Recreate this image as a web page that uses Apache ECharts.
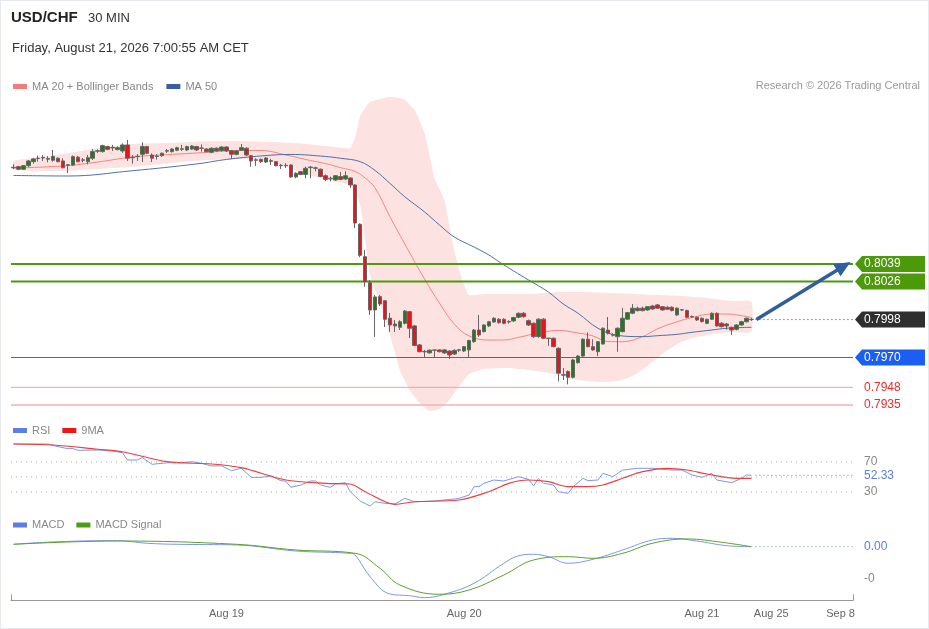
<!DOCTYPE html>
<html>
<head>
<meta charset="utf-8">
<script src="https://cdn.jsdelivr.net/npm/echarts@6/dist/echarts.min.js"></script>
<style>
html, body { margin: 0; padding: 0; background: #fff; }
#chart { width: 929px; height: 629px; }
#frame { position: absolute; left: 0; top: 0; width: 929px; height: 629px; box-sizing: border-box; border: 1px solid #e6e9ed; pointer-events: none; }
</style>
</head>
<body>
<div id="chart"></div>
<div id="frame"></div>
<script>
// 30 min bars, [open, close, low, high]
const candles = [
  [0.81103,0.81100,0.81091,0.81125],[0.81108,0.81089,0.81083,0.81113],[0.81089,0.81115,0.81083,0.81120],
  [0.81115,0.81150,0.81105,0.81157],[0.81145,0.81165,0.81130,0.81172],[0.81168,0.81170,0.81145,0.81190],
  [0.81172,0.81176,0.81150,0.81194],[0.81168,0.81163,0.81140,0.81185],[0.81155,0.81184,0.81145,0.81231],
  [0.81170,0.81145,0.81140,0.81176],[0.81150,0.81100,0.81095,0.81170],[0.81118,0.81122,0.81061,0.81128],
  [0.81120,0.81182,0.81113,0.81190],[0.81178,0.81145,0.81140,0.81187],[0.81155,0.81158,0.81140,0.81172],
  [0.81145,0.81174,0.81125,0.81194],[0.81170,0.81219,0.81157,0.81238],[0.81222,0.81226,0.81209,0.81236],
  [0.81219,0.81263,0.81212,0.81270],[0.81256,0.81236,0.81230,0.81262],[0.81246,0.81250,0.81224,0.81268],
  [0.81234,0.81248,0.81228,0.81258],[0.81224,0.81268,0.81209,0.81280],[0.81268,0.81170,0.81150,0.81305],
  [0.81174,0.81178,0.81130,0.81194],[0.81182,0.81185,0.81150,0.81201],[0.81199,0.81256,0.81142,0.81288],
  [0.81256,0.81207,0.81200,0.81262],[0.81194,0.81170,0.81142,0.81206],[0.81183,0.81186,0.81160,0.81201],
  [0.81189,0.81207,0.81180,0.81212],[0.81222,0.81226,0.81209,0.81238],[0.81219,0.81238,0.81212,0.81245],
  [0.81229,0.81248,0.81222,0.81255],[0.81236,0.81240,0.81224,0.81268],[0.81231,0.81256,0.81224,0.81262],
  [0.81238,0.81260,0.81231,0.81266],[0.81256,0.81231,0.81224,0.81262],[0.81243,0.81246,0.81219,0.81272],
  [0.81238,0.81219,0.81212,0.81245],[0.81214,0.81244,0.81207,0.81250],[0.81244,0.81224,0.81219,0.81250],
  [0.81226,0.81253,0.81219,0.81258],[0.81253,0.81224,0.81216,0.81258],[0.81226,0.81199,0.81165,0.81231],
  [0.81199,0.81224,0.81192,0.81229],[0.81229,0.81248,0.81224,0.81275],[0.81244,0.81194,0.81187,0.81250],
  [0.81189,0.81150,0.81108,0.81194],[0.81155,0.81158,0.81113,0.81170],[0.81162,0.81145,0.81135,0.81168],
  [0.81142,0.81172,0.81135,0.81178],[0.81152,0.81148,0.81120,0.81165],[0.81145,0.81115,0.81110,0.81150],
  [0.81118,0.81114,0.81091,0.81128],[0.81115,0.81118,0.81098,0.81133],[0.81120,0.81032,0.81025,0.81126],
  [0.81032,0.81059,0.81022,0.81066],[0.81071,0.81051,0.81046,0.81076],[0.81051,0.81096,0.81022,0.81108],
  [0.81101,0.81105,0.81022,0.81113],[0.81096,0.81099,0.81074,0.81108],[0.81089,0.81035,0.81030,0.81094],
  [0.81041,0.81014,0.81002,0.81051],[0.81022,0.81018,0.80999,0.81035],[0.81010,0.81041,0.81002,0.81046],
  [0.81035,0.81014,0.81008,0.81069],[0.81017,0.81041,0.81010,0.81074],[0.81024,0.80973,0.80951,0.81029],
  [0.80973,0.80692,0.80656,0.80978],[0.80683,0.80454,0.80440,0.80690],[0.80444,0.80259,0.80222,0.80493],
  [0.80252,0.80051,0.80014,0.80272],[0.80051,0.80147,0.79852,0.80161],[0.80149,0.80095,0.80080,0.80161],
  [0.80119,0.79982,0.79925,0.80124],[0.79990,0.79940,0.79890,0.80029],[0.79947,0.79933,0.79888,0.79977],
  [0.79923,0.79964,0.79903,0.79975],[0.79952,0.80043,0.79945,0.80050],[0.80038,0.79916,0.79844,0.80043],
  [0.79933,0.79789,0.79785,0.79940],[0.79793,0.79743,0.79738,0.79800],[0.79745,0.79742,0.79700,0.79756],
  [0.79734,0.79754,0.79730,0.79760],[0.79753,0.79756,0.79700,0.79760],[0.79756,0.79743,0.79738,0.79760],
  [0.79734,0.79756,0.79726,0.79763],[0.79748,0.79719,0.79690,0.79753],[0.79726,0.79753,0.79719,0.79760],
  [0.79754,0.79757,0.79740,0.79763],[0.79748,0.79780,0.79741,0.79785],[0.79756,0.79826,0.79700,0.79830],
  [0.79817,0.79903,0.79810,0.79910],[0.79903,0.79866,0.79852,0.80014],[0.79891,0.79940,0.79885,0.79947],
  [0.79933,0.79964,0.79925,0.79970],[0.79962,0.79990,0.79955,0.79997],[0.79982,0.79957,0.79950,0.79990],
  [0.79982,0.79952,0.79945,0.79990],[0.79962,0.79966,0.79950,0.79975],[0.79970,0.79995,0.79962,0.80000],
  [0.79997,0.80026,0.79990,0.80033],[0.80026,0.80001,0.79994,0.80036],[0.79972,0.79940,0.79933,0.79980],
  [0.79953,0.79854,0.79845,0.79958],[0.79854,0.79983,0.79845,0.79990],[0.79983,0.79842,0.79835,0.79990],
  [0.79843,0.79840,0.79786,0.79845],[0.79842,0.79780,0.79775,0.79848],[0.79768,0.79584,0.79524,0.79775],
  [0.79573,0.79570,0.79534,0.79623],[0.79596,0.79554,0.79502,0.79605],[0.79554,0.79682,0.79545,0.79690],
  [0.79662,0.79711,0.79655,0.79718],[0.79711,0.79835,0.79705,0.79842],[0.79835,0.79780,0.79775,0.79884],
  [0.79780,0.79756,0.79750,0.79835],[0.79743,0.79817,0.79711,0.79822],[0.79800,0.79916,0.79795,0.79922],
  [0.79903,0.79879,0.79870,0.79999],[0.79868,0.79865,0.79855,0.79880],[0.79854,0.79916,0.79743,0.79922],
  [0.79891,0.79990,0.79885,0.80066],[0.79983,0.80031,0.79977,0.80036],[0.80027,0.80064,0.80020,0.80095],
  [0.80046,0.80064,0.80040,0.80075],[0.80064,0.80046,0.80040,0.80075],[0.80051,0.80075,0.80045,0.80080],
  [0.80080,0.80058,0.80052,0.80088],[0.80088,0.80064,0.80058,0.80095],[0.80075,0.80051,0.80045,0.80080],
  [0.80071,0.80056,0.80050,0.80078],[0.80071,0.80046,0.80040,0.80078],[0.80014,0.80064,0.80008,0.80070],
  [0.80053,0.80050,0.80043,0.80058],[0.80046,0.79997,0.79990,0.80053],[0.80002,0.79999,0.79994,0.80010],
  [0.79997,0.79977,0.79970,0.80002],[0.79990,0.79965,0.79958,0.79995],[0.79952,0.79982,0.79945,0.79987],
  [0.79982,0.80026,0.79977,0.80033],[0.80026,0.79933,0.79928,0.80033],[0.79953,0.79928,0.79921,0.79960],
  [0.79947,0.79933,0.79905,0.79955],[0.79923,0.79903,0.79866,0.79928],[0.79908,0.79940,0.79900,0.79945],
  [0.79940,0.79964,0.79935,0.79970],[0.79964,0.79990,0.79958,0.79995],[0.79982,0.79980,0.79970,0.79992]
];

// indicator readings: [bar index, value]
const ma20 = [
  [0,0.81098],[10,0.81113],[17,0.81142],[24,0.81179],[30,0.81194],[38,0.81211],[45,0.81227],[50,0.81227],
  [55,0.81194],[60,0.81153],[63,0.81131],[66,0.81101],[69,0.81072],[71,0.81024],[73,0.80951],[76,0.80739],
  [79,0.80538],[83,0.80279],[86,0.80102],[89,0.79947],[92,0.79859],[96,0.79829],[99,0.79829],[102,0.79849],
  [106,0.79881],[110,0.79900],[114,0.79881],[117,0.79859],[120,0.79818],[123,0.79817],[127,0.79854],
  [130,0.79911],[134,0.79964],[137,0.79994],[141,0.80021],[144,0.80021],[147,0.80009],[149,0.79994]
];
const ma50 = [
  [0,0.81043],[11,0.81039],[24,0.81078],[37,0.81128],[43,0.81161],[50,0.81187],[56,0.81198],[63,0.81183],
  [66,0.81170],[70,0.81145],[73,0.81080],[76,0.80985],[79,0.80886],[83,0.80774],[86,0.80678],[89,0.80589],
  [93,0.80515],[96,0.80456],[98,0.80407],[101,0.80338],[104,0.80272],[108,0.80183],[111,0.80095],
  [114,0.80026],[118,0.79916],[122,0.79863],[127,0.79854],[130,0.79861],[134,0.79871],[137,0.79886],
  [141,0.79903],[144,0.79916],[149,0.79923]
];
const bbUpper = [
  [0,0.81150],[10,0.81201],[17,0.81243],[24,0.81275],[31,0.81282],[38,0.81294],[45,0.81297],[52,0.81290],
  [58,0.81279],[64,0.81257],[68,0.81246],[69,0.81327],[70,0.81482],[71,0.81541],[72,0.81585],[74,0.81607],
  [76,0.81622],[78,0.81614],[79,0.81600],[81,0.81526],[83,0.81356],[84,0.81194],[85,0.81024],[87,0.80862],
  [88,0.80678],[89,0.80493],[90,0.80346],[91,0.80235],[92,0.80161],[95,0.80169],[100,0.80169],[105,0.80169],
  [110,0.80183],[115,0.80183],[120,0.80176],[125,0.80169],[130,0.80161],[135,0.80154],[140,0.80139],
  [145,0.80117],[149,0.80110]
];
const bbLower = [
  [0,0.81083],[10,0.81076],[24,0.81107],[36,0.81150],[46,0.81165],[53,0.81133],[59,0.81054],[65,0.80997],
  [68,0.80973],[70,0.80825],[71,0.80567],[72,0.80309],[73,0.80198],[74,0.80102],[75,0.79992],[76,0.79866],
  [77,0.79741],[78,0.79608],[80,0.79461],[82,0.79365],[84,0.79306],[86,0.79320],[88,0.79387],[90,0.79490],
  [92,0.79579],[95,0.79616],[100,0.79623],[104,0.79608],[107,0.79593],[110,0.79571],[114,0.79534],
  [118,0.79520],[122,0.79527],[125,0.79564],[128,0.79638],[131,0.79726],[134,0.79800],[137,0.79844],
  [141,0.79874],[145,0.79888],[149,0.79888]
];
const rsi = [
  [0,94],[7,94],[9,90.4],[11,87.8],[12,87.9],[13,85.6],[17,86],[20,84.7],[22,82.4],[23,72.7],[25,72.7],
  [26,75.8],[28,66.9],[31,69],[34,69],[36,70.4],[38,68.2],[40,64.7],[42,64.9],[44,58.4],[46,61.6],[48,49.6],
  [50,49.6],[52,51.3],[54,45.1],[55,44.3],[56,36.2],[58,39.3],[60,44.7],[61,44.7],[62,39.3],[64,36.2],
  [65,40.7],[67,42.4],[68,30.4],[70,18],[72,11.3],[73,17],[75,14.9],[77,14],[79,21.6],[81,17],[85,18],
  [89,20.7],[90,21.6],[92,26],[93,37.1],[94,37.1],[95,41.6],[97,46],[99,44.7],[102,50.4],[104,46.9],
  [105,38],[106,48.3],[107,41.6],[109,39.3],[110,30.4],[112,28.2],[113,37.1],[115,48.3],[116,45.1],
  [118,46],[119,54.9],[121,50.4],[123,59.3],[126,61.6],[129,61.6],[133,59.3],[135,59.3],[137,52.7],
  [139,49.6],[141,54.9],[142,46],[145,42.4],[147,48.3],[148,52.7],[149,52.33]
];
const rsiMa = [
  [0,94],[8,92.7],[17,87],[22,83.7],[31,70.4],[40,67.3],[46,62.4],[55,46],[63,41.6],[68,40.7],[71,30.4],
  [77,13.6],[81,17],[90,19.3],[96,30.4],[100,41.6],[104,46],[108,43.8],[112,37.1],[116,37.1],[119,39.3],
  [123,48.3],[127,57.1],[132,61.6],[136,59.3],[140,54],[146,48.3],[149,48.3]
];
const macd = [
  [0,0.000076],[9,0.000158],[21,0.00019],[27,0.000108],[33,0.000076],[45,0.000054],[57,-0.000136],
  [68,-0.000209],[69,-0.000263],[72,-0.000949],[76,-0.001497],[80,-0.001551],[83,-0.001614],[87,-0.001506],
  [93,-0.001158],[99,-0.000525],[102,-0.000285],[105,-0.000241],[108,-0.000316],[112,-0.000525],
  [117,-0.000399],[123,-0.000104],[129,0.000212],[133,0.000266],[138,0.00018],[144,0.000032],[149,0]
];
const macdSignal = [
  [0,0.000076],[21,0.00018],[45,0.000076],[57,-0.000104],[69,-0.000209],[74,-0.000684],[78,-0.001212],
  [86,-0.001506],[92,-0.00137],[99,-0.000896],[105,-0.000421],[112,-0.000316],[117,-0.000367],
  [123,-0.000209],[129,0.000108],[136,0.000244],[143,0.000139],[149,0]
];

const priceLevels = [0.8039, 0.8026, 0.7998, 0.7970, 0.7948, 0.7935];
const rsiLevels = [70, 50, 30, 52.33];
const rsiLevelText = ['70', '', '30', '52.33'];
const macdLevels = [0, -0.001];
const macdLevelText = ['0.00', '-0'];
const arrowFrom = [150, 0.7998];
const arrowTo = [169, 0.80405];

const slotCount = 170;
const dateTicks = [[43, 'Aug 19'], [91, 'Aug 20'], [139, 'Aug 21'], [153, 'Aug 25'], [167, 'Sep 8']];

const tickMap = new Map(dateTicks);
const categories = Array.from({ length: slotCount }, (_, i) => tickMap.get(i) || '');
const lastIdx = candles.length - 1;
const FONT = '"Liberation Sans", Arial, sans-serif';

const priceStyles = [
  { line: '#4c9a0a', width: 2, tag: '#4c9a0a' },
  { line: '#4c9a0a', width: 2, tag: '#4c9a0a' },
  { line: '#444', width: 1, dash: [1, 3], tag: '#2f2f2f', fromLast: true },
  { line: '#3368e0', width: 1.2, tag: '#1a5ef2' },
  { line: '#f2a0a0', width: 1, textColor: '#f02a2a' },
  { line: '#f6b0b0', width: 1.5, textColor: '#f02a2a' }
];
const rsiStyles = [
  { line: '#aaa', width: 1, dash: [1, 4], textColor: '#888' },
  { line: '#aaa', width: 1, dash: [1, 4] },
  { line: '#aaa', width: 1, dash: [1, 4], textColor: '#888' },
  { line: '#5b7fe3', width: 1, dash: [1, 3], textColor: '#5b7fe3', fromLast: true }
];
const macdStyles = [
  { line: '#5b7fe3', width: 1, dash: [1, 3], textColor: '#5b7fe3', fromLast: true },
  { textColor: '#888' }
];

function levelSeries(axis, values, texts, styles) {
  return {
    type: 'custom',
    xAxisIndex: axis,
    yAxisIndex: axis,
    silent: true,
    clip: false,
    z: 5,
    data: values.map(v => [0, v]),
    renderItem: function (params, api) {
      const i = params.dataIndex;
      const st = styles[i];
      const v = values[i];
      const band = api.size([1, 0])[0];
      const p = api.coord([st.fromLast ? lastIdx : 0, v]);
      const x0 = st.fromLast ? p[0] + 4 : p[0] - band / 2;
      const x1 = api.coord([slotCount - 1, v])[0] + band / 2;
      const y = p[1];
      const kids = [];
      if (st.line) {
        kids.push({
          type: 'line',
          shape: { x1: x0, y1: y, x2: x1, y2: y },
          style: { stroke: st.line, lineWidth: st.width, lineDash: st.dash || null }
        });
      }
      if (st.tag) {
        kids.push({
          type: 'polygon',
          shape: { points: [[x1 + 2, y], [x1 + 9, y - 8], [x1 + 72, y - 8], [x1 + 72, y + 8], [x1 + 9, y + 8]] },
          style: { fill: st.tag }
        });
      }
      const txt = texts[i];
      if (txt) {
        kids.push({
          type: 'text',
          x: x1 + 11,
          y: y,
          style: { text: txt, fill: st.tag ? '#fff' : st.textColor, font: '12px ' + FONT, verticalAlign: 'middle' }
        });
      }
      return { type: 'group', children: kids };
    }
  };
}

const chart = echarts.init(document.getElementById('chart'));

const gridPos = [
  { left: 11, width: 842, top: 86.4, height: 338.9 },
  { left: 11, width: 842, top: 439.5, height: 75 },
  { left: 11, width: 842, top: 530.9, height: 69.5 }
];

const xAxes = [0, 1, 2].map(g => ({
  type: 'category',
  gridIndex: g,
  data: categories,
  boundaryGap: true,
  axisLine: { show: g === 2, onZero: false, lineStyle: { color: '#999' } },
  axisTick: { show: g === 2, inside: true, length: 6, interval: i => i === 0, lineStyle: { color: '#999' } },
  axisLabel: { show: g === 2, interval: 0, color: '#666', fontSize: 11, fontFamily: FONT, margin: 8, hideOverlap: false },
  splitLine: { show: false }
}));

const yAxes = [
  { gridIndex: 0, type: 'value', min: 0.7920, max: 0.8170, show: false },
  { gridIndex: 1, type: 'value', min: 0, max: 100, show: false },
  { gridIndex: 2, type: 'value', min: -0.0017, max: 0.0005, show: false }
];

chart.setOption({
  animation: false,
  textStyle: { fontFamily: FONT },
  title: [
    { text: 'USD/CHF', left: 11, top: 9, padding: 0, textStyle: { fontSize: 15, fontWeight: 'bold', color: '#222', lineHeight: 18, fontFamily: FONT } },
    { text: '30 MIN', left: 88, top: 10, padding: 0, textStyle: { fontSize: 13, fontWeight: 'normal', color: '#333', lineHeight: 16, fontFamily: FONT } },
    { text: 'Friday, August 21, 2026 7:00:55 AM CET', left: 12, top: 40, padding: 0, textStyle: { fontSize: 13, fontWeight: 'normal', color: '#333', lineHeight: 16, fontFamily: FONT } },
    { text: 'Research © 2026 Trading Central', right: 9, top: 79, padding: 0, textStyle: { fontSize: 11, fontWeight: 'normal', color: '#999', lineHeight: 14, fontFamily: FONT } }
  ],
  legend: [
    {
      left: 13, top: 79.5, padding: 0, itemWidth: 14, itemHeight: 5, itemGap: 13, icon: 'rect', selectedMode: false,
      textStyle: { color: '#888', fontSize: 11, lineHeight: 14, fontFamily: FONT },
      data: [{ name: 'MA 20 + Bollinger Bands', itemStyle: { color: '#f57a7a' } }, { name: 'MA 50', itemStyle: { color: '#3a5fa0' } }]
    },
    {
      left: 13, top: 423.5, padding: 0, itemWidth: 14, itemHeight: 5, itemGap: 12, icon: 'rect', selectedMode: false,
      textStyle: { color: '#888', fontSize: 11, lineHeight: 14, fontFamily: FONT },
      data: [{ name: 'RSI', itemStyle: { color: '#5b7fe3' } }, { name: '9MA', itemStyle: { color: '#f01414' } }]
    },
    {
      left: 13, top: 518, padding: 0, itemWidth: 14, itemHeight: 5, itemGap: 12, icon: 'rect', selectedMode: false,
      textStyle: { color: '#888', fontSize: 11, lineHeight: 14, fontFamily: FONT },
      data: [{ name: 'MACD', itemStyle: { color: '#5b7fe3' } }, { name: 'MACD Signal', itemStyle: { color: '#4a9c14' } }]
    }
  ],
  grid: gridPos,
  xAxis: xAxes,
  yAxis: yAxes,
  series: [
    {
      // bollinger band area
      type: 'custom',
      xAxisIndex: 0,
      yAxisIndex: 0,
      silent: true,
      z: 1,
      data: [[0, bbUpper[0][1]]],
      renderItem: function (params, api) {
        const pts = bbUpper.map(d => api.coord(d)).concat(bbLower.slice().reverse().map(d => api.coord(d)));
        return { type: 'polygon', shape: { points: pts, smooth: 0.15 }, style: { fill: '#fde2e2' } };
      }
    },
    {
      name: 'MA 20 + Bollinger Bands', type: 'line', xAxisIndex: 0, yAxisIndex: 0, z: 2,
      data: ma20, smooth: 0.4, showSymbol: false, silent: true,
      lineStyle: { color: '#f58585', width: 1 }, itemStyle: { color: '#f58585' }
    },
    {
      name: 'MA 50', type: 'line', xAxisIndex: 0, yAxisIndex: 0, z: 2,
      data: ma50, smooth: 0.4, showSymbol: false, silent: true,
      lineStyle: { color: '#4d6fa8', width: 1 }, itemStyle: { color: '#4d6fa8' }
    },
    levelSeries(0, priceLevels, priceLevels.map(v => v.toFixed(4)), priceStyles),
    {
      type: 'candlestick', xAxisIndex: 0, yAxisIndex: 0, z: 6, silent: true,
      data: candles, barWidth: 4,
      itemStyle: { color: '#24781f', color0: '#e8141b', borderColor: '#666', borderColor0: '#666', borderWidth: 1 }
    },
    {
      type: 'custom', xAxisIndex: 0, yAxisIndex: 0, silent: true, clip: false, z: 8,
      data: [arrowFrom.concat(arrowTo)],
      renderItem: function (params, api) {
        const a = api.coord(arrowFrom);
        const b = api.coord(arrowTo);
        const dx = b[0] - a[0], dy = b[1] - a[1];
        const len = Math.hypot(dx, dy);
        const ux = dx / len, uy = dy / len;
        const hl = 16, hw = 7;
        const bx = b[0] - ux * hl, by = b[1] - uy * hl;
        return {
          type: 'group',
          children: [
            { type: 'line', shape: { x1: a[0], y1: a[1], x2: bx + ux * 2, y2: by + uy * 2 }, style: { stroke: '#2f5e9c', lineWidth: 3.5 } },
            { type: 'polygon', shape: { points: [[b[0], b[1]], [bx - uy * hw, by + ux * hw], [bx + uy * hw, by - ux * hw]] }, style: { fill: '#2f5e9c' } }
          ]
        };
      }
    },
    levelSeries(1, rsiLevels, rsiLevelText, rsiStyles),
    {
      name: 'RSI', type: 'line', xAxisIndex: 1, yAxisIndex: 1, z: 3,
      data: rsi, showSymbol: false, silent: true,
      lineStyle: { color: '#7b98e8', width: 1 }, itemStyle: { color: '#5b7fe3' }
    },
    {
      name: '9MA', type: 'line', xAxisIndex: 1, yAxisIndex: 1, z: 3,
      data: rsiMa, smooth: 0.3, showSymbol: false, silent: true,
      lineStyle: { color: '#f03c3c', width: 1.2 }, itemStyle: { color: '#f01414' }
    },
    levelSeries(2, macdLevels, macdLevelText, macdStyles),
    {
      name: 'MACD', type: 'line', xAxisIndex: 2, yAxisIndex: 2, z: 3,
      data: macd, smooth: 0.4, showSymbol: false, silent: true,
      lineStyle: { color: '#7b98e8', width: 1 }, itemStyle: { color: '#5b7fe3' }
    },
    {
      name: 'MACD Signal', type: 'line', xAxisIndex: 2, yAxisIndex: 2, z: 3,
      data: macdSignal, smooth: 0.4, showSymbol: false, silent: true,
      lineStyle: { color: '#5aa02a', width: 1 }, itemStyle: { color: '#4a9c14' }
    }
  ]
});
</script>
</body>
</html>
